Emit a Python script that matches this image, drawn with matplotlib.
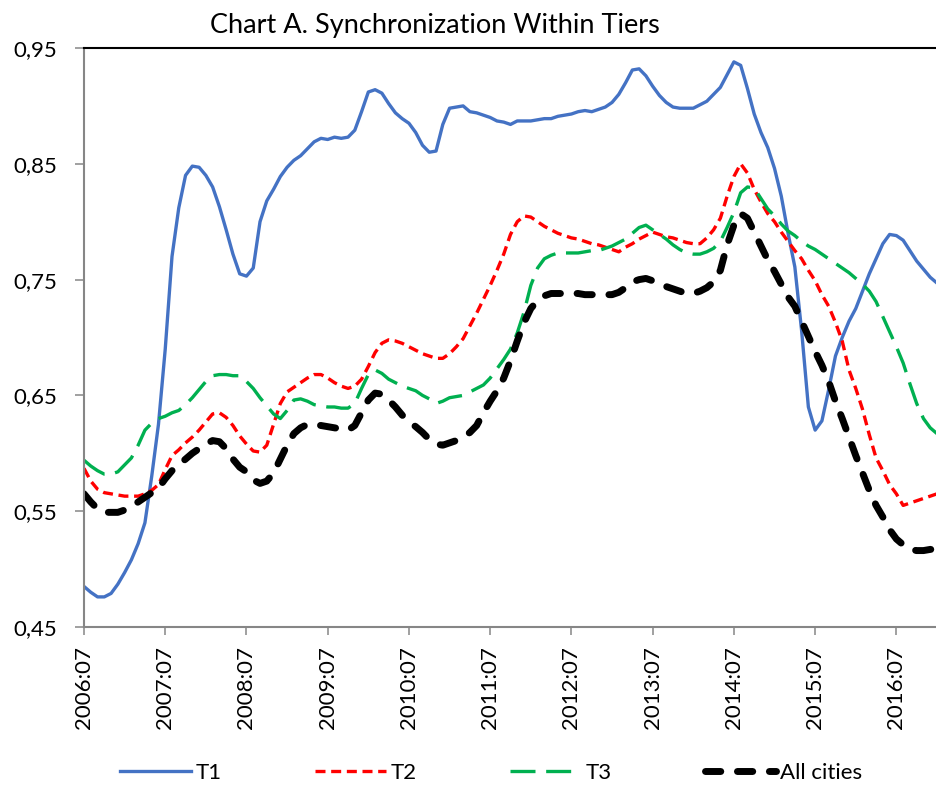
import numpy as np
import matplotlib.pyplot as plt

plt.rcParams['font.family'] = ['Lato', 'DejaVu Sans']

# monthly series, 2006:07 .. 2017:01
t1 = [0.485, 0.480, 0.476, 0.476, 0.479, 0.487, 0.497, 0.508, 0.522, 0.540,
      0.580, 0.625, 0.690, 0.770, 0.812, 0.840, 0.848, 0.847, 0.840, 0.830,
      0.813, 0.793, 0.772, 0.755, 0.753, 0.760, 0.800, 0.818, 0.828, 0.839,
      0.847, 0.853, 0.857, 0.863, 0.869, 0.872, 0.871, 0.873, 0.872, 0.873,
      0.879, 0.895, 0.912, 0.914, 0.911, 0.902, 0.894, 0.889, 0.885, 0.877,
      0.866, 0.860, 0.861, 0.884, 0.898, 0.899, 0.900, 0.895, 0.894, 0.892,
      0.890, 0.887, 0.886, 0.884, 0.887, 0.887, 0.887, 0.888, 0.889, 0.889,
      0.891, 0.892, 0.893, 0.895, 0.896, 0.895, 0.897, 0.899, 0.903, 0.910,
      0.920, 0.931, 0.932, 0.926, 0.917, 0.909, 0.903, 0.899, 0.898, 0.898,
      0.898, 0.901, 0.904, 0.910, 0.916, 0.927, 0.938, 0.935, 0.915, 0.893,
      0.877, 0.864, 0.846, 0.822, 0.790, 0.761, 0.706, 0.640, 0.620, 0.628,
      0.655, 0.684, 0.700, 0.714, 0.725, 0.740, 0.755, 0.768, 0.781, 0.789,
      0.788, 0.784, 0.775, 0.766, 0.759, 0.752, 0.747]

t2 = [0.587, 0.576, 0.569, 0.566, 0.565, 0.564, 0.563, 0.563, 0.563, 0.565,
      0.568, 0.573, 0.586, 0.598, 0.603, 0.609, 0.614, 0.620, 0.627, 0.634,
      0.635, 0.631, 0.624, 0.615, 0.608, 0.602, 0.601, 0.607, 0.625, 0.643,
      0.653, 0.657, 0.661, 0.665, 0.668, 0.668, 0.665, 0.661, 0.658, 0.656,
      0.658, 0.664, 0.675, 0.687, 0.695, 0.698, 0.697, 0.695, 0.692, 0.689,
      0.686, 0.684, 0.682, 0.682, 0.686, 0.692, 0.699, 0.710, 0.721, 0.733,
      0.745, 0.758, 0.772, 0.789, 0.800, 0.805, 0.804, 0.800, 0.796, 0.793,
      0.790, 0.788, 0.786, 0.785, 0.783, 0.781, 0.780, 0.778, 0.776, 0.774,
      0.778, 0.781, 0.785, 0.788, 0.791, 0.789, 0.787, 0.786, 0.784, 0.782,
      0.781, 0.781, 0.786, 0.793, 0.803, 0.822, 0.839, 0.850, 0.842, 0.828,
      0.817, 0.807, 0.800, 0.791, 0.783, 0.775, 0.768, 0.758, 0.749, 0.737,
      0.727, 0.713, 0.697, 0.672, 0.656, 0.638, 0.616, 0.596, 0.585, 0.573,
      0.565, 0.555, 0.557, 0.559, 0.561, 0.563, 0.565]

t3 = [0.594, 0.589, 0.585, 0.582, 0.582, 0.584, 0.590, 0.596, 0.607, 0.620,
      0.626, 0.630, 0.632, 0.635, 0.637, 0.642, 0.648, 0.655, 0.662, 0.667,
      0.668, 0.668, 0.667, 0.667, 0.662, 0.656, 0.648, 0.641, 0.634, 0.630,
      0.637, 0.646, 0.647, 0.645, 0.642, 0.641, 0.640, 0.640, 0.639, 0.639,
      0.643, 0.656, 0.668, 0.672, 0.669, 0.664, 0.661, 0.658, 0.656, 0.654,
      0.650, 0.647, 0.643, 0.645, 0.648, 0.649, 0.650, 0.653, 0.656, 0.659,
      0.665, 0.673, 0.681, 0.690, 0.704, 0.722, 0.745, 0.760, 0.768, 0.771,
      0.773, 0.773, 0.773, 0.773, 0.774, 0.775, 0.775, 0.777, 0.779, 0.782,
      0.785, 0.790, 0.795, 0.797, 0.793, 0.789, 0.785, 0.780, 0.776, 0.773,
      0.772, 0.772, 0.774, 0.777, 0.783, 0.795, 0.808, 0.825, 0.830, 0.829,
      0.820, 0.811, 0.805, 0.798, 0.792, 0.788, 0.783, 0.779, 0.776, 0.772,
      0.768, 0.764, 0.760, 0.756, 0.751, 0.746, 0.740, 0.731, 0.718, 0.705,
      0.692, 0.678, 0.660, 0.643, 0.630, 0.622, 0.617]

all_cities = [0.565, 0.558, 0.552, 0.549, 0.549, 0.549, 0.551, 0.554, 0.558, 0.562,
              0.566, 0.570, 0.578, 0.585, 0.590, 0.595, 0.600, 0.604, 0.608, 0.611,
              0.610, 0.604, 0.595, 0.588, 0.584, 0.577, 0.574, 0.576, 0.583, 0.595,
              0.607, 0.617, 0.622, 0.625, 0.625, 0.624, 0.623, 0.622, 0.621, 0.620,
              0.624, 0.635, 0.646, 0.652, 0.651, 0.646, 0.640, 0.633, 0.627, 0.623,
              0.618, 0.612, 0.608, 0.607, 0.609, 0.611, 0.614, 0.618, 0.624, 0.635,
              0.645, 0.654, 0.665, 0.680, 0.697, 0.713, 0.725, 0.732, 0.736, 0.738,
              0.738, 0.738, 0.738, 0.738, 0.737, 0.737, 0.737, 0.737, 0.737, 0.739,
              0.743, 0.748, 0.750, 0.751, 0.749, 0.747, 0.744, 0.742, 0.740, 0.738,
              0.738, 0.740, 0.743, 0.748, 0.758, 0.780, 0.797, 0.807, 0.803, 0.791,
              0.779, 0.767, 0.757, 0.746, 0.735, 0.727, 0.714, 0.701, 0.688, 0.676,
              0.662, 0.645, 0.630, 0.614, 0.598, 0.583, 0.568, 0.555, 0.545, 0.534,
              0.526, 0.521, 0.517, 0.516, 0.516, 0.517, 0.517]

tick_labels = ['2006:07', '2007:07', '2008:07', '2009:07', '2010:07', '2011:07',
               '2012:07', '2013:07', '2014:07', '2015:07', '2016:07']
y_ticks = [0.45, 0.55, 0.65, 0.75, 0.85, 0.95]

months = np.arange(len(t1))

fig = plt.figure(figsize=(9.37, 7.85), dpi=100)
ax = fig.add_axes([84 / 937, 1 - 627 / 785, 1 - 84 / 937, (627 - 48) / 785])

ax.plot(months, t1, color='#4472C4', lw=2.4, label='T1')
ax.plot(months, t2, color='#FF0000', lw=2.4, dashes=(3.0, 1.7), label='T2')
ax.plot(months, t3, color='#00B050', lw=2.4, dashes=(7.5, 3.2), label='T3')
ax.plot(months, all_cities, color='black', lw=5, dashes=(2.2, 2.4),
        dash_capstyle='round', label='All cities')

ax.set_xlim(0, len(t1) - 1)
ax.set_ylim(0.45, 0.95)
ax.set_xticks(months[::12])
ax.set_xticklabels(tick_labels, rotation=90, fontsize=16)
ax.set_yticks(y_ticks)
ax.set_yticklabels([f'{v:.2f}'.replace('.', ',') for v in y_ticks], fontsize=16)

ax.tick_params(axis='y', length=6.5, width=1.1, color='#868686', pad=13)
ax.tick_params(axis='x', length=6, width=1.1, color='#868686', pad=8)

for side in ['left', 'bottom']:
    ax.spines[side].set_color('#868686')
    ax.spines[side].set_linewidth(1.5)
ax.spines['top'].set_color('black')
ax.spines['top'].set_linewidth(1.5)
ax.spines['right'].set_visible(False)

fig.text(435 / 937, 1 - 25 / 785, 'Chart A. Synchronization Within Tiers',
         ha='center', va='center', fontsize=19.5)

fig.legend(loc='center', bbox_to_anchor=(491 / 937, 1 - 773 / 785), ncol=4,
           frameon=False, fontsize=16, handlelength=3.2, columnspacing=4.2,
           handletextpad=0.2)

fig.savefig('out.png', dpi=100)
